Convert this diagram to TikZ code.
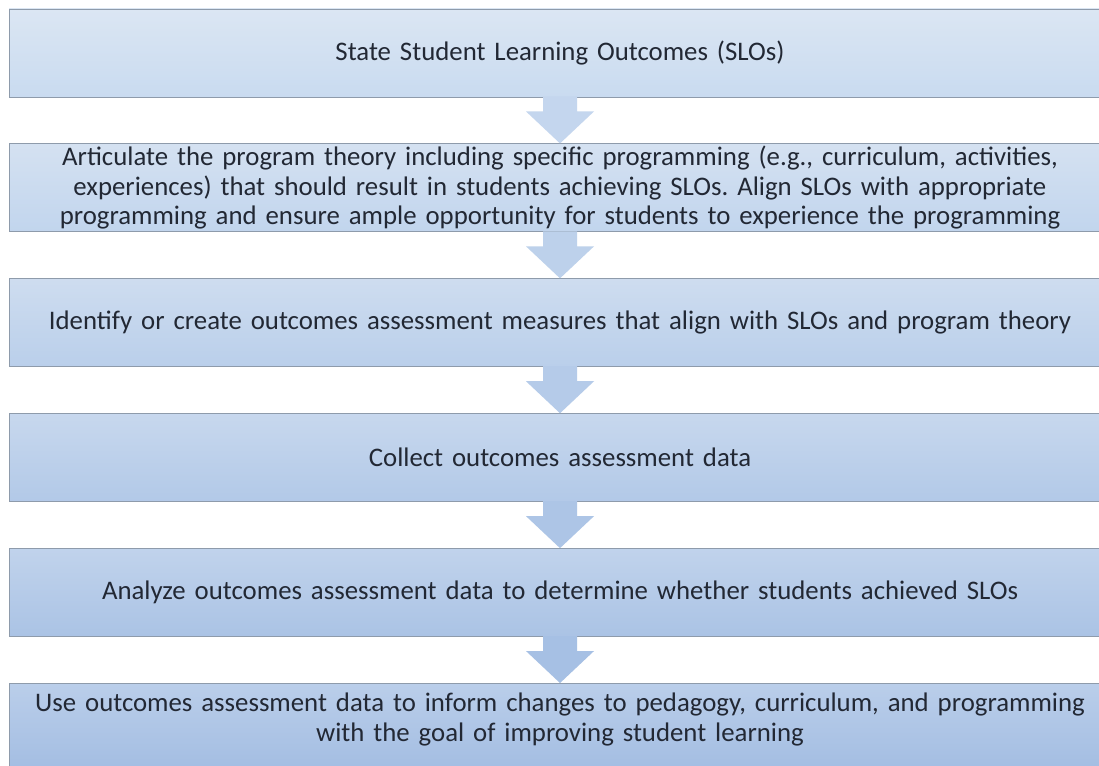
\documentclass[tikz,border=0pt]{standalone}
\usepackage{fontspec}
\setmainfont{Carlito}
\frenchspacing
\usetikzlibrary{positioning,calc}

\definecolor{boxtopa}{HTML}{DBE6F3}
\definecolor{boxtopb}{HTML}{BACEEA}
\definecolor{boxbota}{HTML}{C9DBF0}
\definecolor{boxbotb}{HTML}{A3BDE2}
\definecolor{arrowa}{HTML}{C4D6EE}
\definecolor{arrowb}{HTML}{A6C0E4}
\definecolor{boxline}{HTML}{8E9BAB}
\definecolor{steptext}{HTML}{222834}

\tikzset{
  stepbox/.style={draw=boxline, line width=0.9pt,
    top color=boxtopa!#1!boxtopb, bottom color=boxbota!#1!boxbotb,
    minimum width=1102pt, minimum height=88pt, text width=1090pt,
    inner sep=0pt, align=center, text=steptext,
    font=\fontsize{26.8}{29.5}\selectfont},
  blockarrow/.style={fill=arrowa!#1!arrowb},
}

\begin{document}
\begin{tikzpicture}[x=1pt, y=1pt]
    \clip (0,0) rectangle (1099,765);
    \fill[white] (0,0) rectangle (1099,765);

    % the six steps, top to bottom
    \node[stepbox=100] (slo) at (560, 712) {State Student Learning Outcomes (SLOs)};
    \node[stepbox=80, below=46pt of slo] (theory)
        {Articulate the program theory including specific programming (e.g., curriculum, activities,\\
         experiences) that should result in students achieving SLOs. Align SLOs with appropriate\\
         programming and ensure ample opportunity for students to experience the programming};
    \node[stepbox=60, below=46pt of theory] (measures)
        {Identify or create outcomes assessment measures that align with SLOs and program theory};
    \node[stepbox=40, below=46pt of measures] (collect) {Collect outcomes assessment data};
    \node[stepbox=20, below=46pt of collect] (analyze)
        {Analyze outcomes assessment data to determine whether students achieved SLOs};
    % last box runs off the bottom edge, so its text sits higher
    \node[stepbox=0, below=46pt of analyze, text depth=50pt] (use)
        {Use outcomes assessment data to inform changes to pedagogy, curriculum, and programming\\
         with the goal of improving student learning};

    % block arrows between the steps
    \foreach \a/\b/\c in {slo/theory/100, theory/measures/75, measures/collect/50,
                          collect/analyze/25, analyze/use/0} {
        \fill[blockarrow=\c] ($(\a.south)+(-17,1)$) -- ++(0,-15) -- ++(-17,0)
            -- (\b.north) -- ($(\a.south)+(34,-14)$) -- ++(-17,0)
            -- ($(\a.south)+(17,1)$) -- cycle;
    }
\end{tikzpicture}
\end{document}
